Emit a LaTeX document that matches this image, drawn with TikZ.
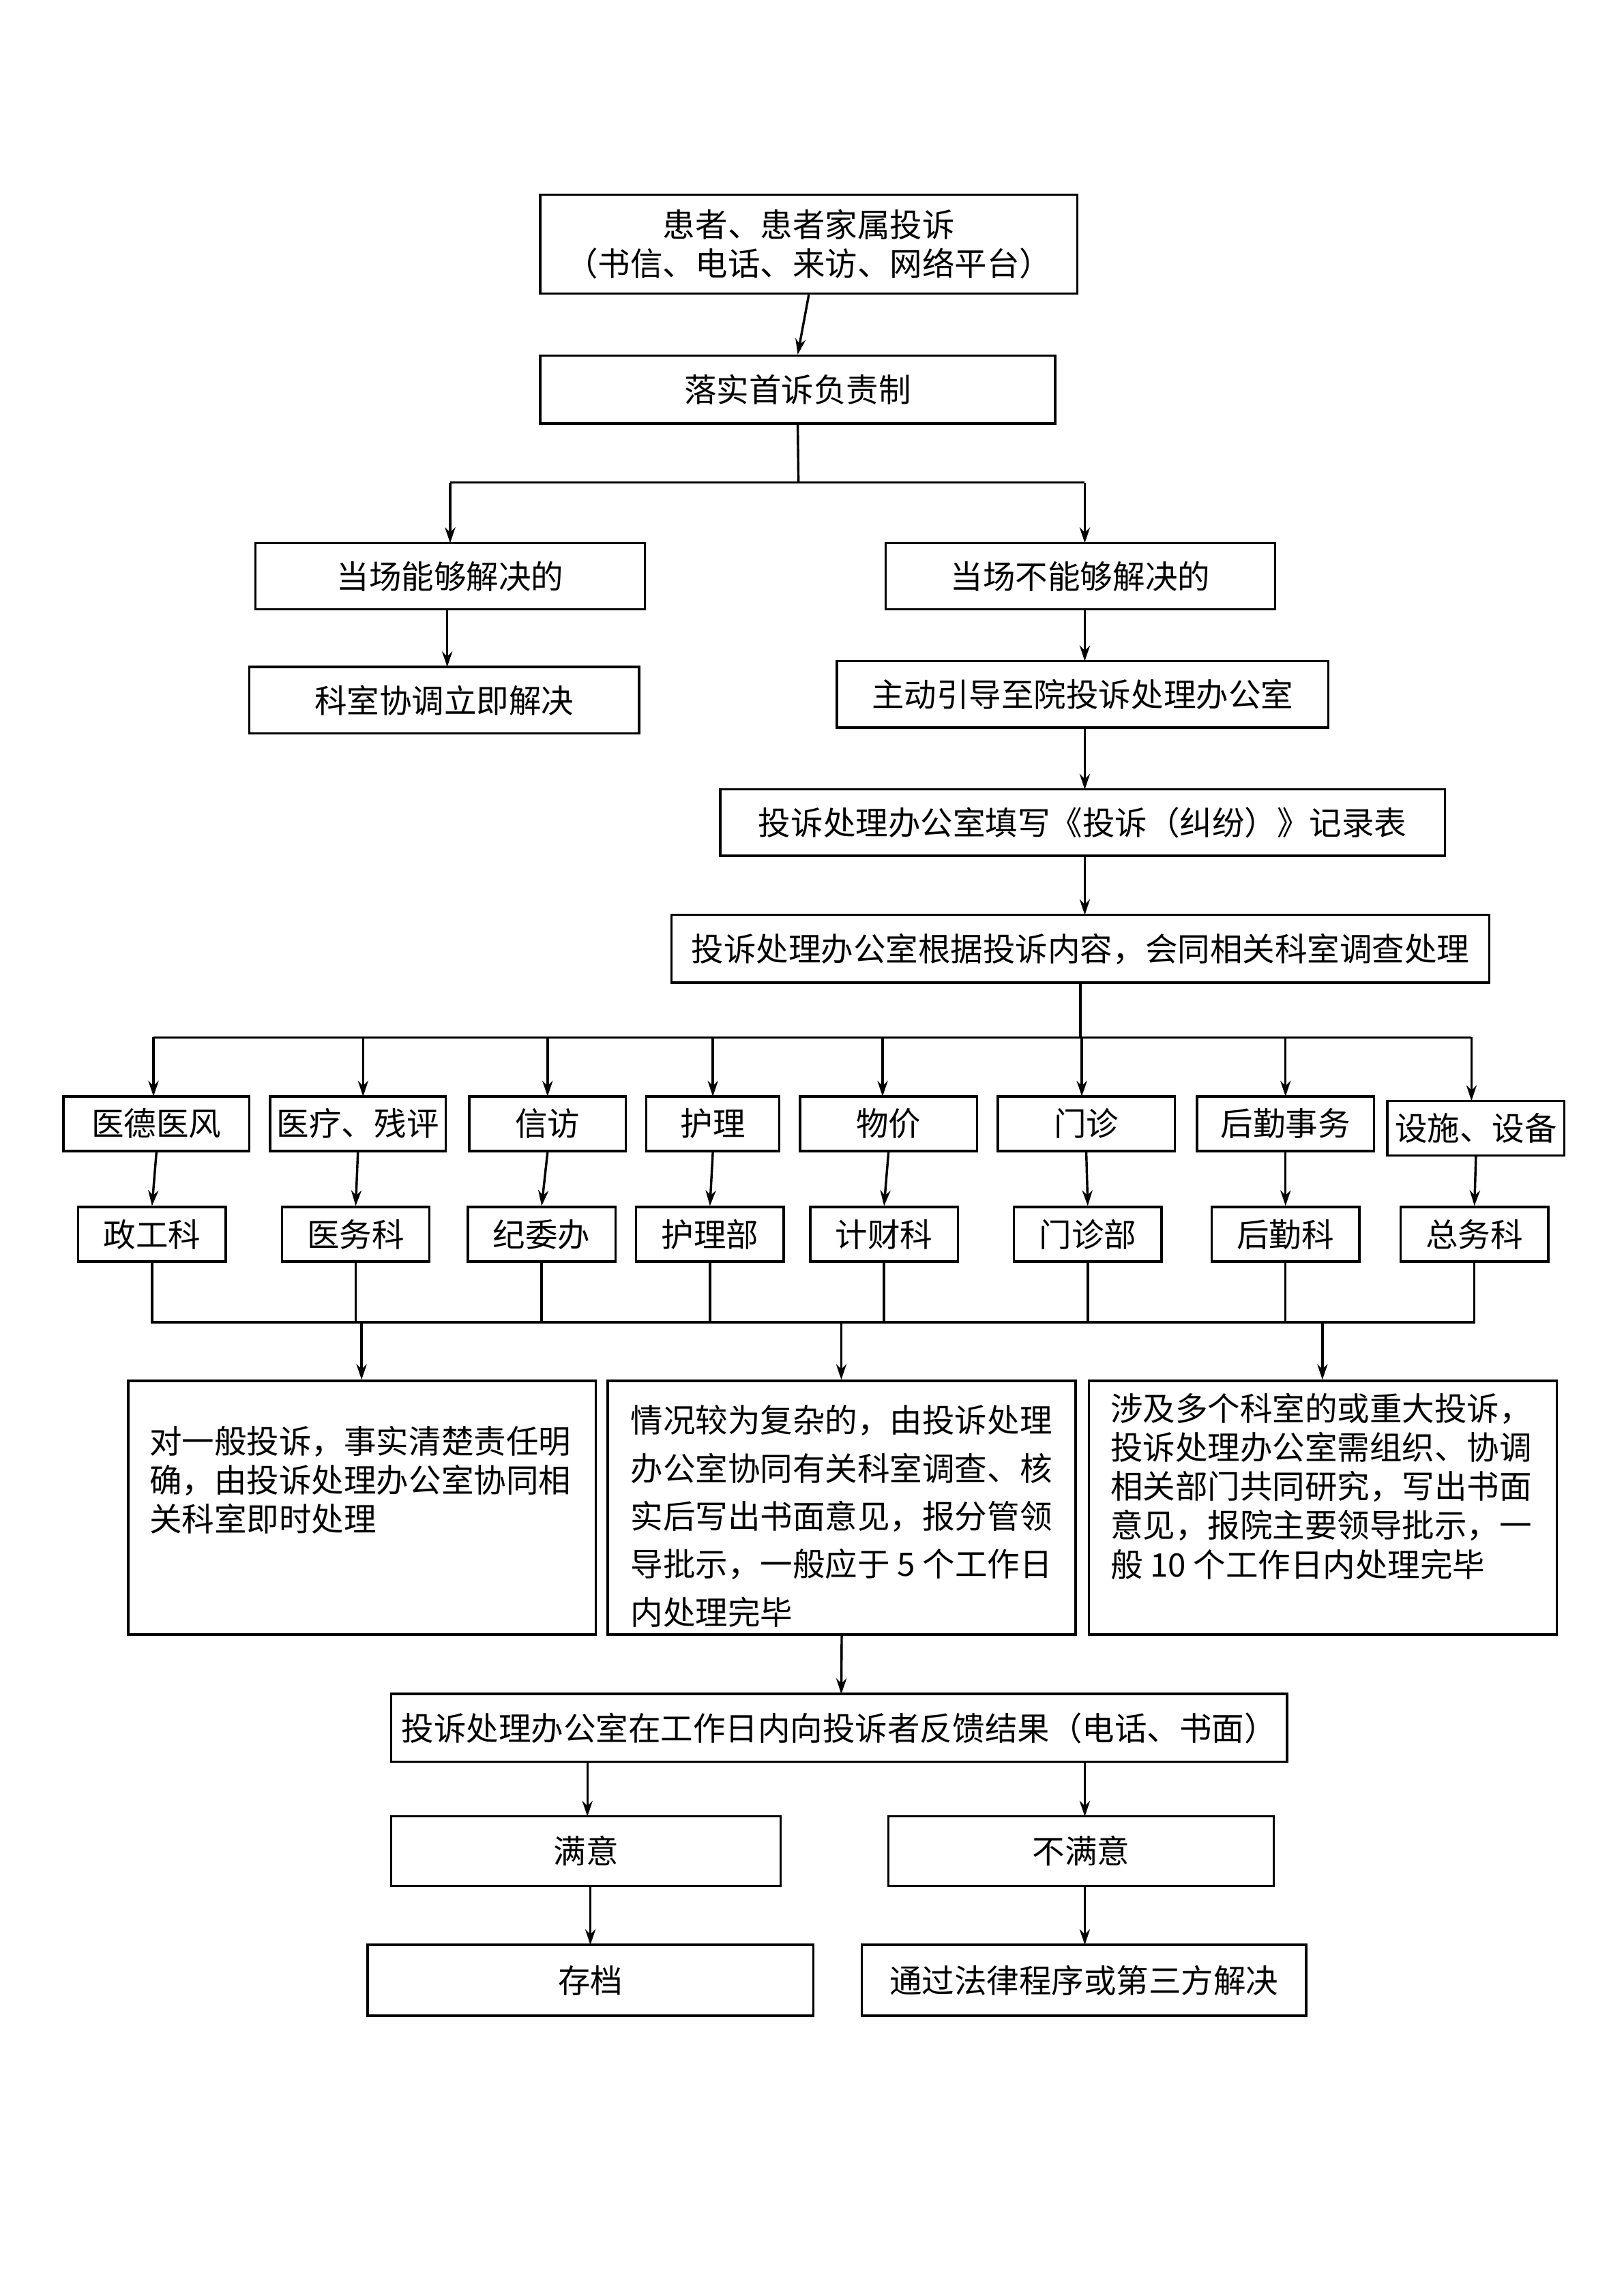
\documentclass[tikz,border=0pt]{standalone}
\usepackage{fontspec}
\setmainfont{Noto Sans CJK SC}
\usetikzlibrary{arrows.meta}
\begin{document}
\begin{tikzpicture}[x=0.02cm,y=-0.02cm,
  bx/.style={draw,line width=0.9pt,inner sep=0pt,font=\fontsize{12.5}{15}\selectfont},
  ar/.style={-{Stealth[length=6pt,width=4pt]},line width=0.9pt},
  ln/.style={line width=0.9pt},
  tx/.style={anchor=north west,inner sep=0pt,align=left,font=\fontsize{12.5}{15}\selectfont}]
\useasboundingbox (0,0) rectangle (1100,1556);
\newcommand\bxn[6]{\node[bx,minimum width={(#4-#2)*0.02cm},minimum height={(#5-#3)*0.02cm},align=center] (#1) at ({(#2+#4)/2},{(#3+#5)/2}) {#6};}
\bxn{b1}{366}{132}{730}{199}{患者、患者家属投诉\\（书信、电话、来访、网络平台）}
\bxn{b2}{366}{241}{715}{287}{落实首诉负责制}
\bxn{l3}{173}{368}{437}{413}{当场能够解决的}
\bxn{r3}{600}{368}{864}{413}{当场不能够解决的}
\bxn{l4}{169}{452}{433}{497}{科室协调立即解决}
\bxn{r4}{567}{448}{900}{493}{主动引导至院投诉处理办公室}
\bxn{b5}{488}{535}{979}{580}{投诉处理办公室填写《投诉（纠纷）》记录表}
\bxn{b6}{455}{620}{1009}{666}{投诉处理办公室根据投诉内容，会同相关科室调查处理}
\draw[ar] (b1.south) -- (b2.north);
\coordinate (s2) at (541,327); \coordinate (sl) at (305,327); \coordinate (sr) at (735,327);
\draw[ln] (b2.south) -- (s2); \draw[ln] (sl) -- (sr);
\draw[ar] (sl) -- (305,368); \draw[ar] (sr) -- (735,368);
\draw[ar] (303,413) -- (303,452);
\draw[ar] (735,413) -- (735,448);
\draw[ar] (735,493) -- (735,535);
\draw[ar] (735,580) -- (735,620);
\coordinate (h6) at (732,703);
\draw[ln] (732,666) -- (h6); \draw[ln] (104,703) -- (997,703);
% categories
\foreach \n/\a/\b/\t/\y/\ax in {c1/43/169/医德医风/743/104,c2/183/302/医疗、残评/743/246,c3/318/424/信访/743/371,c4/438/528/护理/743/483,c5/542/662/物价/743/598,c6/676/796/门诊/743/733,c7/811/931/后勤事务/743/871,c8/940/1060/设施、设备/746/997}{
  \bxn{\n}{\a}{\y}{\b}{\y+37}{\t}
  \draw[ar] (\ax,703) -- (\ax,\y);
}
\foreach \n/\a/\t/\c in {d1/53/政工科/c1,d2/191/医务科/c2,d3/317/纪委办/c3,d4/431/护理部/c4,d5/549/计财科/c5,d6/687/门诊部/c6,d7/821/后勤科/c7,d8/949/总务科/c8}{
  \bxn{\n}{\a}{818}{\a+100}{855}{\t}
  \draw[ar] (\c.south) -- (\n.north);
  \draw[ln] (\n.south) -- ++(0,41);
}
\draw[ln] (103,896) -- (999,896);
\draw[ar] (245,896) -- (245,935);
\draw[ar] (570,896) -- (570,935);
\draw[ar] (896,896) -- (896,935);
\node[draw,line width=0.9pt,minimum width={317*0.02cm},minimum height={172*0.02cm},anchor=north west] (ba) at (86,935) {};
\node[draw,line width=0.9pt,minimum width={317*0.02cm},minimum height={172*0.02cm},anchor=north west] (bb) at (411,935) {};
\node[draw,line width=0.9pt,minimum width={317*0.02cm},minimum height={172*0.02cm},anchor=north west] (bc) at (737,935) {};
\node[tx] at (101,966) {\baselineskip=24\dimexpr0.02cm\relax 对一般投诉，事实清楚责任明\\确，由投诉处理办公室协同相\\关科室即时处理};
\begin{scope}
\clip (412,936) rectangle (727,1106);
\node[tx,font=\fontsize{12.5}{18.5}\selectfont] at (427,952) {情况较为复杂的，由投诉处理\\办公室协同有关科室调查、核\\实后写出书面意见，报分管领\\导批示，一般应于 5 个工作日\\内处理完毕};
\end{scope}
\node[tx] at (752,944) {涉及多个科室的或重大投诉，\\投诉处理办公室需组织、协调\\相关部门共同研究，写出书面\\意见，报院主要领导批示，一\\般 10 个工作日内处理完毕};
\bxn{fb}{265}{1148}{872}{1194}{投诉处理办公室在工作日内向投诉者反馈结果（电话、书面）}
\draw[ar] (bb.south) -- (570,1148);
\bxn{my}{265}{1231}{529}{1278}{满意}
\bxn{bmy}{602}{1231}{863}{1278}{不满意}
\draw[ar] (398,1194) -- (398,1231);
\draw[ar] (735,1194) -- (735,1231);
\bxn{cd}{249}{1318}{551}{1366}{存档}
\bxn{fl}{584}{1318}{885}{1366}{通过法律程序或第三方解决}
\draw[ar] (400,1278) -- (400,1318);
\draw[ar] (735,1278) -- (735,1318);
\end{tikzpicture}
\end{document}
